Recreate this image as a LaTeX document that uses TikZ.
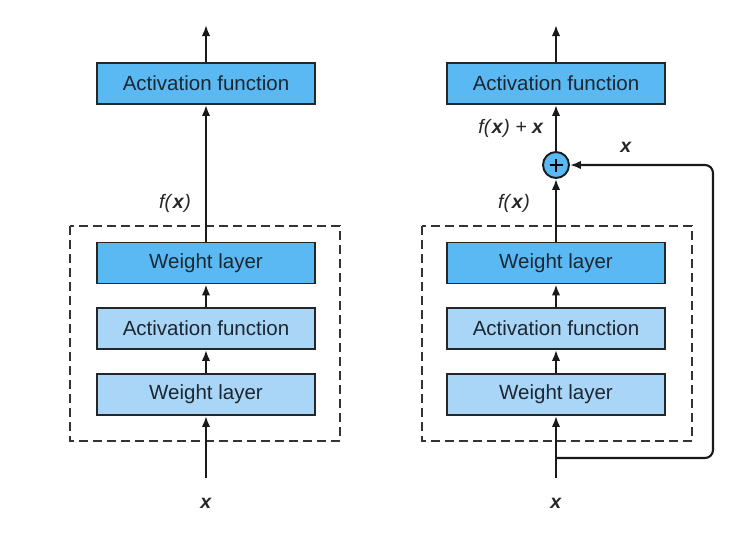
\documentclass[tikz,border=0pt]{standalone}
\usepackage{fontspec}
\setmainfont{Liberation Sans}
\usetikzlibrary{arrows.meta}
\definecolor{darkbox}{HTML}{5AB9F2}
\definecolor{lightbox}{HTML}{A9D5F7}
\definecolor{txt}{HTML}{1B2733}
\begin{document}
\begin{tikzpicture}[x=1pt,y=-1pt,line width=2.1pt,
 layer/.style={draw=black!85,line width=1.9pt,minimum width=218pt,minimum height=41pt,inner sep=0pt,font=\fontsize{20.5}{24}\selectfont,text=txt},
 dark/.style={layer,fill=darkbox},
 light/.style={layer,fill=lightbox},
 arr/.style={-{Latex[length=11pt,width=8.5pt]},line width=2.1pt,draw=black!90},
 lbl/.style={font=\fontsize{19.5}{22}\selectfont,text=black!85},
 block/.style={draw=black!80,dash pattern=on 9pt off 5pt,line width=2pt}]
\useasboundingbox[fill=white] (0,0) rectangle (750,536);
% left
\node[dark] (la) at (206,83.5) {Activation function};
\node[dark] (lw2) at (206,263) {Weight layer};
\node[light] (lact) at (206,328.5) {Activation function};
\node[light] (lw1) at (206,394.5) {Weight layer};
\draw[block] (70,226) rectangle (340,441);
\coordinate (lin) at (206,478);
\coordinate (lout) at (206,25);
\draw[arr] (lin) -- (lw1);
\draw[arr] (lw1) -- (lact);
\draw[arr] (lact) -- (lw2);
\draw[arr] (lw2) -- (la);
\draw[arr] (la) -- (lout);
\node[lbl] (lfx) at (175,203) {\textit{f(}\textbf{\textit{x}}\textit{)}};
\node[lbl] (lx) at (206,503) {\textbf{\textit{x}}};
% right
\node[dark] (ra) at (556,83.5) {Activation function};
\node[dark] (rw2) at (556,263) {Weight layer};
\node[light] (ract) at (556,328.5) {Activation function};
\node[light] (rw1) at (556,394.5) {Weight layer};
\draw[block] (422,226) rectangle (692,441);
\node[circle,draw=black!90,line width=1.9pt,fill=darkbox,minimum size=26pt,inner sep=0pt] (plus) at (556,165) {};
\draw[line width=1.8pt] ([xshift=-6.5pt]plus.center) -- ([xshift=6.5pt]plus.center);
\draw[line width=1.8pt] ([yshift=-6.5pt]plus.center) -- ([yshift=6.5pt]plus.center);
\coordinate (rin) at (556,478);
\coordinate (rout) at (556,25);
\coordinate (rs) at (556,458);
\coordinate (rtop) at (713,165);
\draw[arr] (rin) -- (rw1);
\draw[arr] (rw1) -- (ract);
\draw[arr] (ract) -- (rw2);
\draw[arr] (rw2) -- (plus);
\draw[arr] (plus) -- (ra);
\draw[arr] (ra) -- (rout);
\draw[arr,rounded corners=8pt] (rs) -| (rtop) -- (plus.east);
\node[lbl] (rfx) at (514,203) {\textit{f(}\textbf{\textit{x}}\textit{)}};
\node[lbl] (rfxx) at (511,128) {\textit{f(}\textbf{\textit{x}}\textit{) + }\textbf{\textit{x}}};
\node[lbl] (rxs) at (626,147) {\textbf{\textit{x}}};
\node[lbl] (rx) at (556,503) {\textbf{\textit{x}}};
\end{tikzpicture}
\end{document}
